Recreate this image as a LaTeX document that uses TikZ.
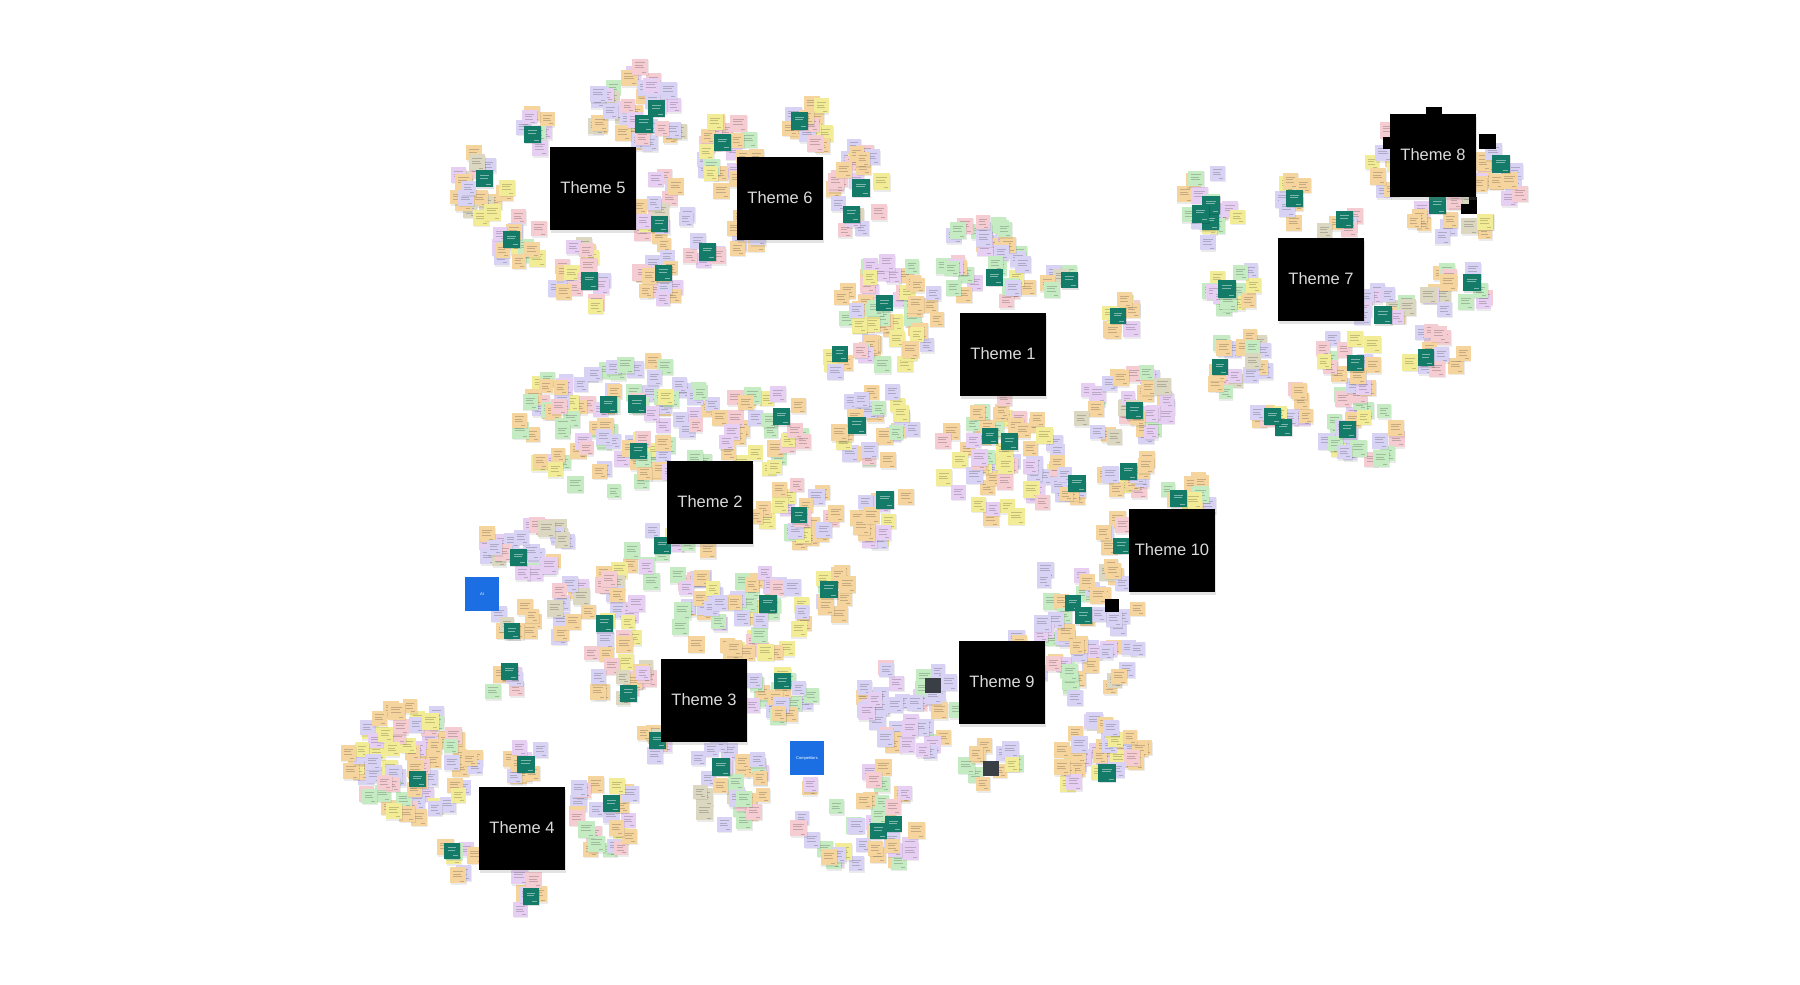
\documentclass[tikz,border=0pt]{standalone}
\usepackage{fontspec}
\setmainfont{Liberation Sans}
\usetikzlibrary{shadows}
\definecolor{nO}{HTML}{F5D49E}
\definecolor{nL}{HTML}{D8D3F4}
\definecolor{nP}{HTML}{E6CFF3}
\definecolor{nK}{HTML}{F5CCD2}
\definecolor{nG}{HTML}{C4EBC2}
\definecolor{nY}{HTML}{F3EC96}
\definecolor{nB}{HTML}{DBD7C0}
\definecolor{teal}{HTML}{137B67}
\definecolor{bluesq}{HTML}{1C6FE3}
\definecolor{darksq}{HTML}{3A3F45}
\def\palA#1{\ifcase#1 nO\or nO\or nO\or nO\or nL\or nL\or nP\or nK\or nG\or nY\else nO\fi}
\def\palB#1{\ifcase#1 nL\or nL\or nL\or nP\or nP\or nO\or nO\or nK\or nG\or nB\else nL\fi}
\def\palC#1{\ifcase#1 nG\or nG\or nG\or nO\or nO\or nL\or nL\or nY\or nK\or nP\else nG\fi}
\def\palD#1{\ifcase#1 nK\or nK\or nO\or nO\or nO\or nL\or nP\or nB\or nY\or nL\else nK\fi}
\def\palE#1{\ifcase#1 nY\or nY\or nO\or nO\or nO\or nL\or nL\or nP\or nK\or nG\else nY\fi}
\newcommand\notebox[4]{%
  \edef\ncol{#4}%
  \pgfmathsetmacro\nl{#1-#3/2}\pgfmathsetmacro\nt{#2-#3/2}%
  \fill[black,opacity=0.08] (\nl+0.8,\nt+1.4) rectangle ++(#3,#3);
  \fill[fill=\ncol] (\nl,\nt) rectangle ++(#3,#3);
  \draw[draw=\ncol!45!black,opacity=0.35,line width=0.5pt]
    (\nl+3,\nt+4) -- ++(#3-6,0) (\nl+3,\nt+6.5) -- ++(#3-8,0)
    (\nl+3,\nt+9) -- ++(#3-7,0) (\nl+#3-6,\nt+#3-2.5) -- ++(4,0);
}
\newcommand\tealbox[3]{%
  \pgfmathsetmacro\nl{#1-#3/2}\pgfmathsetmacro\nt{#2-#3/2}%
  \fill[black,opacity=0.12] (\nl+0.8,\nt+1.4) rectangle ++(#3,#3);
  \fill[teal] (\nl,\nt) rectangle ++(#3,#3);
  \draw[white,opacity=0.45,line width=0.5pt]
    (\nl+4,\nt+5) -- ++(#3-8,0) (\nl+4,\nt+7.5) -- ++(#3-9,0) (\nl+#3-7,\nt+#3-3) -- ++(5,0);
}
\newcommand\cluster[7]{%
  \pgfmathtruncatemacro\nn{round(#5*1.35)}%
  \foreach \i in {1,...,\nn}{%
    \pgfmathsetmacro\ang{rnd*360}%
    \pgfmathsetmacro\rr{sqrt(rnd)}%
    \pgfmathsetmacro\px{#1+#3*\rr*cos(\ang)}%
    \pgfmathsetmacro\py{#2+#4*\rr*sin(\ang)}%
    \pgfmathtruncatemacro\ci{min(9,floor(rnd*10))}%
    \pgfmathsetmacro\w{14+rnd*3}%
    \edef\curcol{\csname pal#6\endcsname{\ci}}%
    \notebox{\px}{\py}{\w}{\curcol}%
  }%
  \ifnum#7>0
  \foreach \i in {1,...,#7}{%
    \pgfmathsetmacro\ang{rnd*360}%
    \pgfmathsetmacro\rr{0.55*sqrt(rnd)}%
    \pgfmathsetmacro\px{#1+#3*\rr*cos(\ang)}%
    \pgfmathsetmacro\py{#2+#4*\rr*sin(\ang)}%
    \pgfmathsetmacro\w{16+rnd*2}%
    \tealbox{\px}{\py}{\w}%
  }%
  \fi
}
\tikzset{
  theme/.style={fill=black, minimum width=86pt, minimum height=83pt, inner sep=0pt,
    text=white!86!black, font=\fontsize{16.5}{18}\selectfont,
    drop shadow={opacity=0.22, shadow xshift=1pt, shadow yshift=-3pt}},
  bluebox/.style={fill=bluesq, minimum width=34pt, minimum height=34pt, inner sep=0pt,
    text=white, font=\fontsize{4}{5}\selectfont},
  darkbox/.style={fill=darksq, minimum width=16pt, minimum height=15pt, inner sep=0pt},
  blackbit/.style={fill=black, inner sep=0pt}
}
\begin{document}
\begin{tikzpicture}[x=1pt,y=-1pt]
\useasboundingbox (0,0) rectangle (1800,985);
\fill[white] (0,0) rectangle (1800,985);
\pgfmathsetseed{2024}
% Theme 5 region
\cluster{637}{110}{49}{44}{30}{B}{2}
\cluster{540}{129}{18}{20}{5}{B}{1}
\cluster{480}{184}{30}{35}{14}{D}{1}
\cluster{519}{241}{27}{29}{12}{A}{1}
\cluster{584}{278}{30}{35}{14}{D}{1}
\cluster{662}{209}{26}{37}{14}{D}{1}
\cluster{660}{276}{23}{25}{10}{B}{1}
\cluster{707}{258}{20}{20}{4}{B}{1}
% Theme 6 region
\cluster{730}{152}{28}{43}{18}{A}{1}
\cluster{749}{237}{16}{25}{8}{A}{0}
\cluster{807}{126}{22}{29}{10}{A}{1}
\cluster{858}{193}{26}{48}{16}{D}{2}
% Theme 1 region
\cluster{989}{262}{50}{43}{30}{C}{1}
\cluster{1063}{285}{16}{16}{4}{B}{1}
\cluster{890}{312}{52}{55}{45}{A}{1}
\cluster{836}{357}{13}{16}{3}{C}{1}
\cluster{1113}{320}{23}{24}{7}{A}{1}
\cluster{1124}{403}{47}{38}{25}{B}{1}
\cluster{875}{425}{40}{40}{20}{A}{1}
\cluster{1000}{459}{60}{63}{45}{E}{2}
\cluster{1069}{483}{19}{18}{5}{B}{1}
\cluster{1129}{473}{25}{20}{8}{A}{1}
\cluster{884}{513}{29}{32}{10}{A}{1}
% Theme 2 region
\cluster{620}{425}{103}{69}{80}{C}{3}
\cluster{763}{427}{46}{43}{22}{A}{1}
\cluster{795}{517}{43}{34}{18}{A}{1}
\cluster{528}{542}{46}{32}{20}{B}{1}
\cluster{668}{562}{43}{34}{14}{C}{1}
\cluster{597}{611}{46}{49}{25}{D}{1}
\cluster{740}{617}{69}{49}{40}{A}{1}
\cluster{837}{599}{24}{31}{8}{A}{1}
\cluster{517}{626}{23}{23}{6}{D}{1}
\cluster{503}{677}{23}{17}{4}{B}{1}
\cluster{626}{683}{34}{23}{12}{D}{1}
% Theme 3 / 4 region
\cluster{783}{695}{37}{29}{15}{C}{1}
\cluster{657}{743}{20}{20}{6}{B}{1}
\cluster{730}{786}{41}{46}{25}{B}{1}
\cluster{411}{763}{65}{57}{60}{E}{1}
\cluster{528}{763}{23}{23}{7}{A}{1}
\cluster{603}{815}{34}{40}{18}{E}{1}
\cluster{459}{857}{17}{21}{5}{A}{1}
\cluster{528}{890}{17}{23}{5}{A}{1}
% Theme 9 / 10 region
\cluster{909}{708}{49}{49}{35}{B}{0}
\cluster{863}{817}{66}{55}{30}{C}{2}
\cluster{990}{763}{26}{23}{8}{A}{0}
\cluster{1096}{754}{55}{37}{30}{A}{1}
\cluster{1076}{631}{66}{71}{45}{B}{2}
\cluster{1114}{545}{17}{28}{6}{A}{1}
\cluster{1188}{495}{29}{16}{8}{A}{1}
% Theme 7 / 8 region
\cluster{1211}{209}{29}{37}{12}{C}{3}
\cluster{1291}{201}{17}{23}{5}{A}{1}
\cluster{1343}{224}{23}{12}{4}{D}{1}
\cluster{1234}{289}{29}{26}{10}{C}{1}
\cluster{1237}{365}{32}{37}{14}{B}{1}
\cluster{1282}{413}{26}{29}{8}{D}{2}
\cluster{1360}{425}{40}{40}{22}{C}{1}
\cluster{1349}{356}{29}{23}{10}{E}{1}
\cluster{1386}{307}{26}{26}{8}{B}{1}
\cluster{1435}{352}{29}{26}{10}{D}{1}
\cluster{1458}{289}{34}{26}{10}{B}{1}
\cluster{1383}{161}{12}{40}{6}{D}{0}
\cluster{1452}{215}{46}{26}{12}{D}{1}
\cluster{1506}{174}{32}{26}{10}{A}{1}
% special squares
\node[bluebox] (ai) at (482,594) {AI};
\node[bluebox] (comp) at (807,758) {Competitors};
\node[darkbox] (dk1) at (933,685) {};
\node[darkbox] (dk2) at (991,768) {};
\node[blackbit, minimum width=14pt, minimum height=13pt] (bk1) at (1112,605) {};
\node[blackbit, minimum width=16pt, minimum height=10pt] (bk2) at (1434,112) {};
\node[blackbit, minimum width=17pt, minimum height=15pt] (bk3) at (1487,141) {};
\node[blackbit, minimum width=16pt, minimum height=10pt] (bk4) at (1469,209) {};
\node[blackbit, minimum width=8pt, minimum height=9pt] (bk5) at (1473,201) {};
\node[blackbit, minimum width=10pt, minimum height=12pt] (bk6) at (1388,143) {};
% theme boxes
\node[theme] (t5) at (593,188) {Theme 5};
\node[theme] (t6) at (780,198) {Theme 6};
\node[theme] (t1) at (1003,354) {Theme 1};
\node[theme] (t8) at (1433,155) {Theme 8};
\node[theme] (t7) at (1321,279) {Theme 7};
\node[theme] (t2) at (710,502) {Theme 2};
\node[theme] (t10) at (1172,550) {Theme 10};
\node[theme] (t9) at (1002,682) {Theme 9};
\node[theme] (t3) at (704,700) {Theme 3};
\node[theme] (t4) at (522,828) {Theme 4};
\end{tikzpicture}
\end{document}
